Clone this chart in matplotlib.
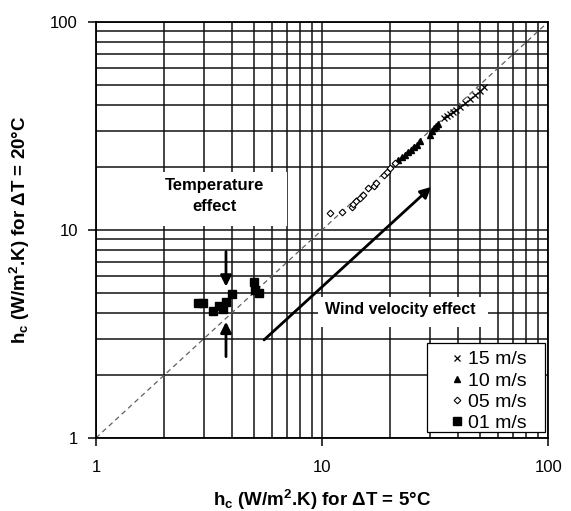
import numpy as np
import matplotlib
matplotlib.use('Agg')
import matplotlib.pyplot as plt
from matplotlib.patches import Rectangle
from matplotlib.ticker import FixedLocator, FuncFormatter, NullFormatter

plt.rcParams['font.family'] = ['Liberation Sans', 'DejaVu Sans']
plt.rcParams['mathtext.fontset'] = 'custom'
plt.rcParams['mathtext.bf'] = 'Liberation Sans:bold'
plt.rcParams['mathtext.rm'] = 'Liberation Sans:bold'
plt.rcParams['mathtext.default'] = 'bf'

# hc at dT = 5 C (x) and dT = 20 C (y)
x_01 = [2.83, 2.97, 3.30, 3.51, 3.64, 3.76, 4.00, 5.00, 5.07, 5.28]
y_01 = [4.45, 4.44, 4.08, 4.31, 4.16, 4.52, 4.91, 5.64, 5.15, 4.96]

x_05 = [10.85, 12.2, 13.5, 13.7, 14.2, 14.7, 15.2, 16.0, 16.9, 17.3, 18.7, 19.3, 20.0, 21.0]
y_05 = [12.0, 12.25, 12.9, 13.3, 13.8, 14.2, 14.7, 15.9, 16.2, 16.8, 18.4, 19.1, 19.8, 20.9]

x_10 = [21.7, 22.6, 23.3, 24.0, 24.8, 25.5, 26.3, 27.1, 30.1, 30.7, 31.3, 31.9, 32.6]
y_10 = [21.7, 22.4, 22.9, 23.7, 24.2, 25.1, 25.6, 26.8, 28.6, 29.9, 30.9, 31.6, 32.3]

x_15 = [34.7, 35.7, 36.8, 38.0, 39.2, 40.8, 42.9, 45.2, 47.5, 50.0, 52.1]
y_15 = [34.5, 35.3, 36.1, 36.9, 37.8, 39.0, 40.8, 42.6, 44.6, 46.6, 48.7]

fig = plt.figure(figsize=(5.71, 5.11), dpi=100)
ax = fig.add_axes([0.168, 0.143, 0.792, 0.814])

ax.set_xscale('log')
ax.set_yscale('log')
ax.set_xlim(1, 100)
ax.set_ylim(1, 100)

# 1:1 line
ax.plot([1, 100], [1, 100], color='#606060', lw=0.9, dashes=(4, 3), zorder=2)

ax.plot(x_15, y_15, 'x', color='black', ms=4, mew=0.9, ls='none', label='15 m/s', zorder=4)
ax.plot(x_10, y_10, '^', color='black', ms=4.5, ls='none', label='10 m/s', zorder=4)
ax.plot(x_05, y_05, 'D', mfc='white', mec='black', ms=3.4, mew=0.8, ls='none', label='05 m/s', zorder=4)
ax.plot(x_01, y_01, 's', color='black', ms=5.5, ls='none', label='01 m/s', zorder=4)

# grid
ax.grid(True, which='both', color='#111111', lw=1.1)
ax.set_axisbelow(True)
for s in ax.spines.values():
    s.set_linewidth(1.3)

ax.xaxis.set_major_locator(FixedLocator([1, 10, 100]))
ax.yaxis.set_major_locator(FixedLocator([1, 10, 100]))
fmt = FuncFormatter(lambda v, p: '%g' % v)
ax.xaxis.set_major_formatter(fmt)
ax.yaxis.set_major_formatter(fmt)
ax.xaxis.set_minor_formatter(NullFormatter())
ax.yaxis.set_minor_formatter(NullFormatter())
ax.tick_params(which='major', direction='out', length=6, width=1.1, labelsize=12)
ax.tick_params(axis='x', which='major', pad=10)
ax.tick_params(axis='y', which='major', pad=7)
ax.tick_params(which='minor', length=0)

ax.set_xlabel(r'h$_{c}$ (W/m$^{2}$.K) for ΔT = 5°C', fontsize=13.5, fontweight='bold', labelpad=9)
ax.set_ylabel(r'h$_{c}$ (W/m$^{2}$.K) for ΔT = 20°C', fontsize=13.5, fontweight='bold', labelpad=13)

# white boxes behind the notes
ax.add_patch(Rectangle((0.104, 0.510), 0.318, 0.129, transform=ax.transAxes,
                       facecolor='white', edgecolor='none', zorder=2.5))
ax.add_patch(Rectangle((0.491, 0.267), 0.376, 0.072, transform=ax.transAxes,
                       facecolor='white', edgecolor='none', zorder=2.5))
ax.text(0.263, 0.582, 'Temperature\neffect', transform=ax.transAxes, ha='center', va='center',
        fontsize=12, fontweight='bold', linespacing=1.45, zorder=3)
ax.text(0.507, 0.3077, 'Wind velocity effect', transform=ax.transAxes, ha='left', va='center',
        fontsize=11.5, fontweight='bold', zorder=3)

arrow = dict(arrowstyle='-|>', lw=2, color='black', mutation_scale=16, shrinkA=0, shrinkB=0)
ax.annotate('', xy=(30.4, 16.1), xytext=(5.54, 2.96), arrowprops=arrow, zorder=5)
ax.annotate('', xy=(3.76, 5.34), xytext=(3.76, 7.87), arrowprops=arrow, zorder=5)
ax.annotate('', xy=(3.76, 3.62), xytext=(3.76, 2.46), arrowprops=arrow, zorder=5)

# legend: frame drawn separately so the entries can sit left inside it
ax.add_patch(Rectangle((0.732, 0.0144), 0.261, 0.214, transform=ax.transAxes,
                       facecolor='white', edgecolor='black', lw=0.9, zorder=5.5))
leg = ax.legend(loc='center left', bbox_to_anchor=(0.777, 0.112), fontsize=14,
                frameon=False, borderaxespad=0, borderpad=0, handlelength=1.0,
                handletextpad=0.07, labelspacing=0.18)
leg.set_zorder(6)

fig.savefig('out.png', dpi=100)
